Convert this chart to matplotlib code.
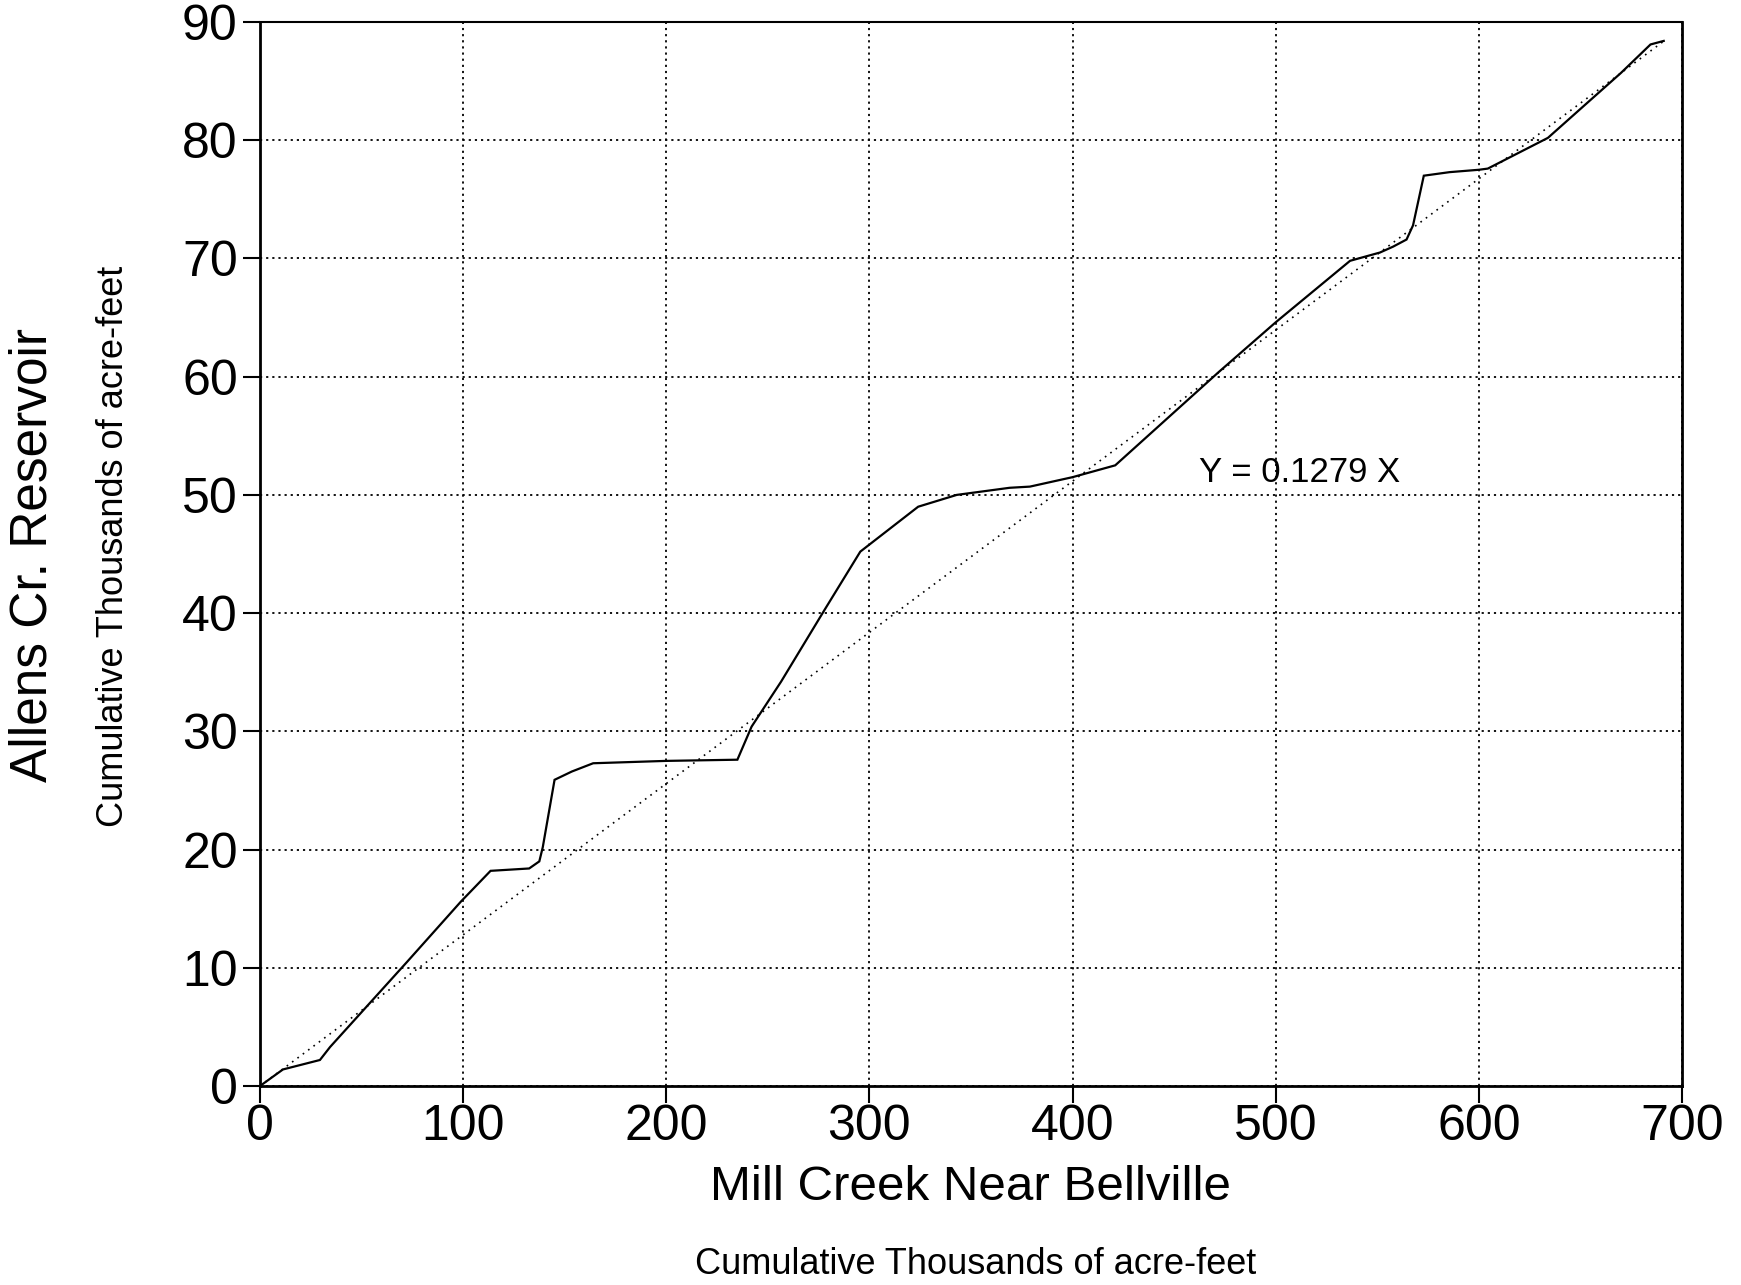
import matplotlib
matplotlib.use("Agg")
import matplotlib.pyplot as plt

# Data (thousands of acre-feet, cumulative)
mill_creek = [0, 11.3, 29.5, 34.5, 72.4, 98.9, 103.4, 113.5, 132.5, 137.5, 139.2,
              145.0, 153.5, 164.0, 182.0, 200.0, 235.0, 242.0, 256.5, 278.0, 295.5,
              300.0, 324.0, 343.0, 369.0, 379.0, 400.0, 421.0, 472.0, 500.0, 536.6,
              551.3, 557.8, 564.4, 567.6, 572.9, 585.6, 600.0, 604.4, 634.0, 651.0,
              670.0, 684.5, 691.0]
allens_cr = [0, 1.4, 2.2, 3.3, 10.5, 15.6, 16.4, 18.2, 18.4, 19.0, 20.2,
             25.9, 26.6, 27.3, 27.4, 27.5, 27.6, 30.4, 34.2, 40.3, 45.2,
             45.8, 49.0, 50.0, 50.6, 50.7, 51.5, 52.5, 60.4, 64.6, 69.8,
             70.5, 71.0, 71.6, 72.8, 77.0, 77.3, 77.5, 77.6, 80.2, 82.8,
             85.7, 88.1, 88.4]
slope = 0.1279
fit_x = [0, 692]
fit_y = [slope * v for v in fit_x]

x_ticks = [0, 100, 200, 300, 400, 500, 600, 700]
y_ticks = [0, 10, 20, 30, 40, 50, 60, 70, 80, 90]

plt.rcParams['font.family'] = ['Liberation Sans', 'DejaVu Sans']

W, H = 1741, 1285
fig = plt.figure(figsize=(W / 100, H / 100), dpi=100)
L, R, T, B = 260, 1682, 22, 1086
ax = fig.add_axes([L / W, 1 - B / H, (R - L) / W, (B - T) / H])

ax.plot(mill_creek, allens_cr, color='black', lw=1.6, solid_joinstyle='miter')
ax.plot(fit_x, fit_y, color='black', lw=1.2, linestyle=(0, (1, 3)))

ax.set_xlim(0, 700)
ax.set_ylim(0, 90)
ax.set_xticks(x_ticks)
ax.set_yticks(y_ticks)
ax.set_xticklabels([str(v) for v in x_ticks])
ax.set_yticklabels([str(v) for v in y_ticks])
ax.tick_params(axis='both', direction='out', length=12, width=1.5, labelsize=36, colors='black')
ax.tick_params(axis='x', pad=1)
ax.tick_params(axis='y', pad=4)

ax.grid(True, color='black', linestyle=(0, (1.2, 2.2)), lw=1.3)
ax.set_axisbelow(True)
for side in ['left', 'bottom', 'right']:
    ax.spines[side].set_linewidth(2.0)
ax.spines['top'].set_linewidth(1.5)

ax.text(462, 51.9, 'Y = 0.1279 X', fontsize=25, va='center', ha='left')

fig.text(970 / W, 1 - 1188 / H, 'Mill Creek Near Bellville', fontsize=35.5,
         ha='center', va='center')
fig.text(976 / W, 1 - 1264 / H, 'Cumulative Thousands of acre-feet', fontsize=26,
         ha='center', va='center')
fig.text(33 / W, 1 - 555 / H, 'Allens Cr. Reservoir', fontsize=37,
         ha='center', va='center', rotation=90)
fig.text(114 / W, 1 - 546 / H, 'Cumulative Thousands of acre-feet', fontsize=26,
         ha='center', va='center', rotation=90)

fig.savefig('out.png', dpi=100, facecolor='white')
